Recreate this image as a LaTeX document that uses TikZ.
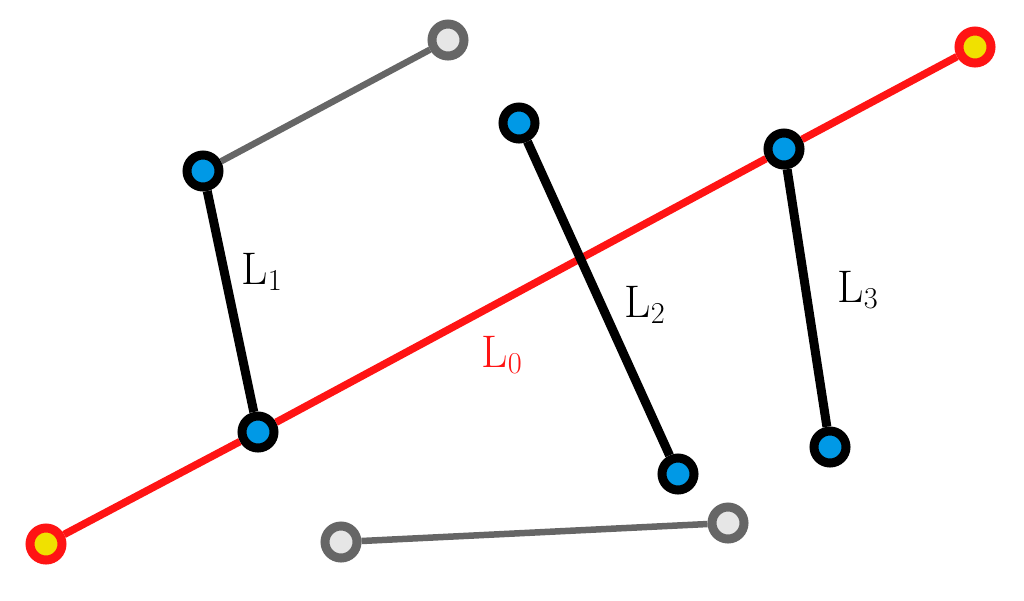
\documentclass[tikz,border=0pt]{standalone}
\usepackage{amsmath}
\usepackage{tikz}
\definecolor{redline}{RGB}{255,20,20}
\definecolor{grayline}{RGB}{102,102,102}
\definecolor{lightfill}{RGB}{230,230,230}
\definecolor{bluefill}{RGB}{0,153,230}
\definecolor{yellowfill}{RGB}{240,225,0}
\tikzset{
	VertexStyle/.style = {shape=circle,minimum size=0.64cm,inner sep=0pt,line width=0.18cm},
	BlackVertex/.style = {VertexStyle,draw=black,fill=bluefill},
	RedVertex/.style   = {VertexStyle,draw=redline,fill=yellowfill},
	GrayVertex/.style  = {VertexStyle,draw=grayline,fill=lightfill},
	LabelStyle/.style  = {font=\fontsize{26}{30}\selectfont,inner sep=0pt}
}
\begin{document}
\begin{tikzpicture}[x=0.02cm,y=-0.02cm]
		\useasboundingbox (0,0) rectangle (1024,600);
		%\draw[solid] (0,0) rectangle (1024,600);
		\node[RedVertex]   (P0) at (46,544) {};
		\node[RedVertex]   (Q0) at (975,47) {};
		\node[GrayVertex]  (G1) at (448,40) {};
		\node[GrayVertex]  (G2) at (341,542) {};
		\node[GrayVertex]  (G3) at (728,523) {};
		\node[BlackVertex] (P1) at (203,171) {};
		\node[BlackVertex] (Q1) at (258,432) {};
		\node[BlackVertex] (P2) at (519,123) {};
		\node[BlackVertex] (Q2) at (678,474) {};
		\node[BlackVertex] (P3) at (784,149) {};
		\node[BlackVertex] (Q3) at (830,447) {};
		\draw[grayline,line width=0.13cm] (P1) -- (G1);
		\draw[grayline,line width=0.13cm] (G2) -- (G3);
		\draw[redline,line width=0.15cm] (P0) -- (Q1) -- (P3) -- (Q0);
		\draw[black,line width=0.18cm] (P1) -- (Q1);
		\draw[black,line width=0.18cm] (P2) -- (Q2);
		\draw[black,line width=0.18cm] (P3) -- (Q3);
		\node[LabelStyle,text=redline] (L0) at (502,355) {L$_0$};
		\node[LabelStyle] (L1) at (262,272) {L$_1$};
		\node[LabelStyle] (L2) at (645,305) {L$_2$};
		\node[LabelStyle] (L3) at (858,290) {L$_3$};
	\end{tikzpicture}
\end{document}
